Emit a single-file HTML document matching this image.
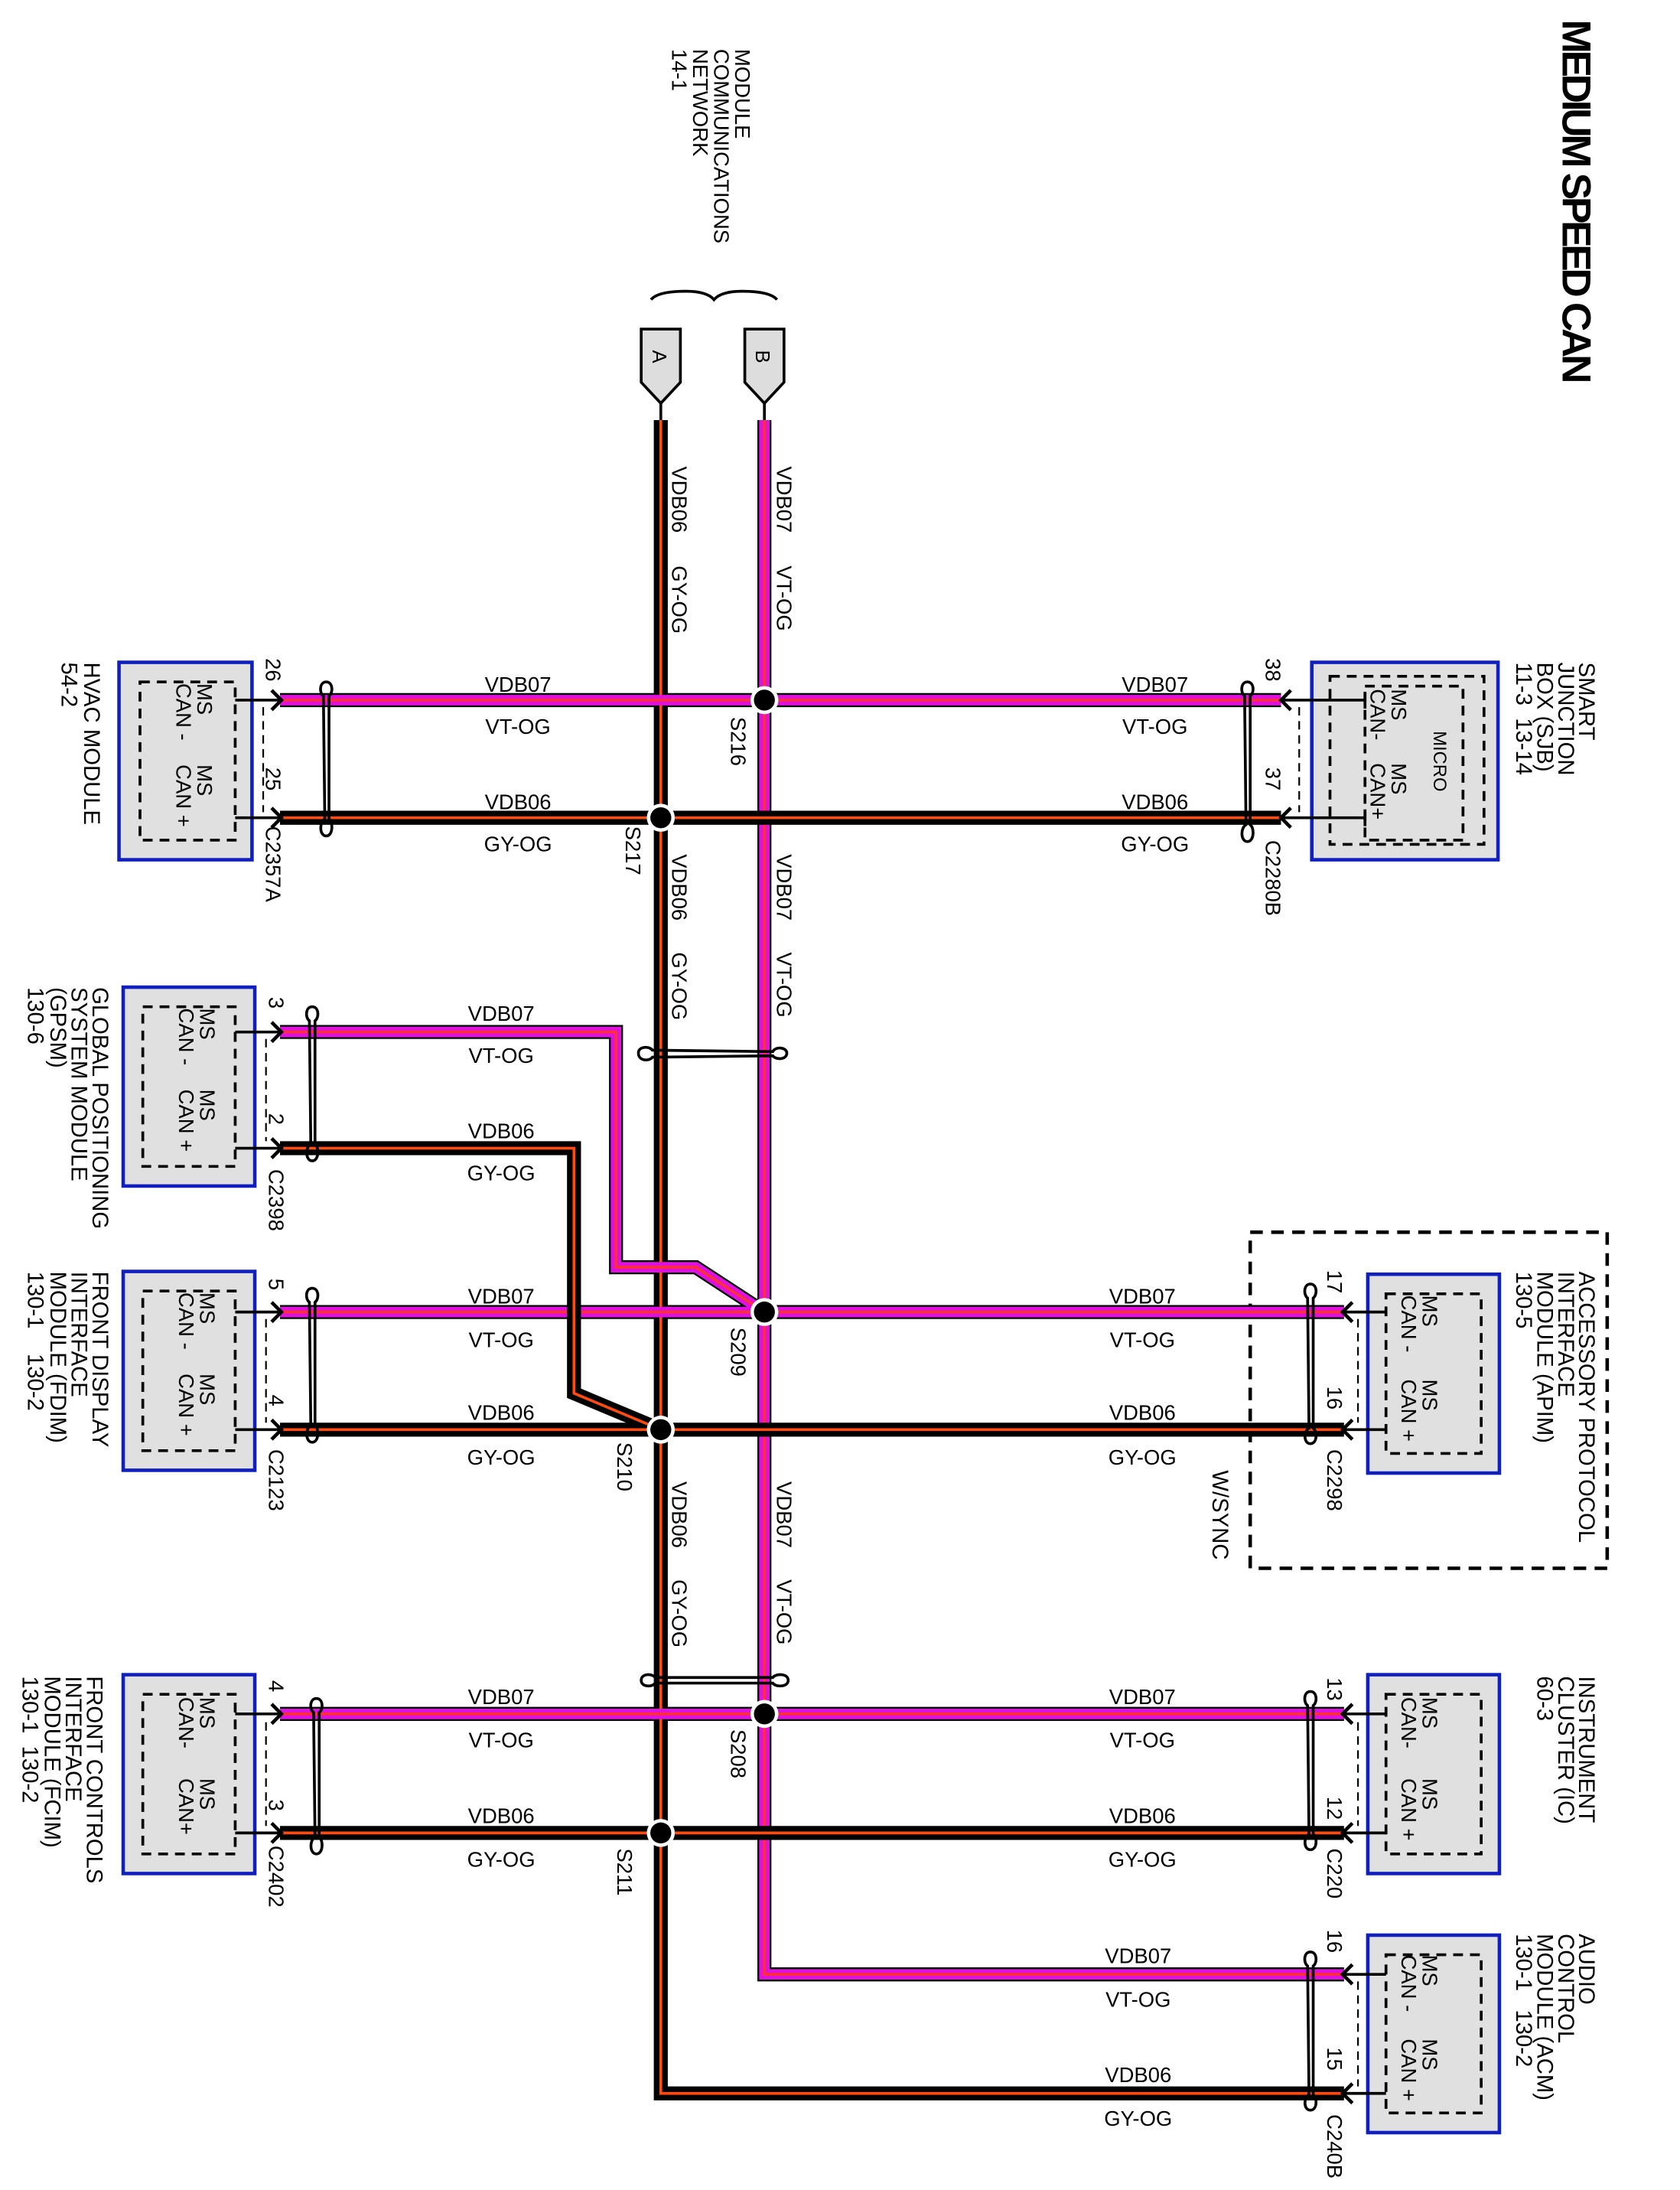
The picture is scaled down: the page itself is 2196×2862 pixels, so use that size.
<!DOCTYPE html>
<html><head><meta charset="utf-8"><style>
html,body{margin:0;padding:0;background:#fff}
svg{display:block}
text{font-family:"Liberation Sans",Arial,sans-serif;fill:#000}
</style></head><body>
<svg width="2196" height="2862" viewBox="0 0 1200 1564" preserveAspectRatio="none" xmlns="http://www.w3.org/2000/svg">
<rect width="1200" height="1564" fill="#fff"/>
<g font-size="16">
<text transform="translate(1116,14) rotate(90)" font-size="29" font-weight="bold" textLength="260">MEDIUM SPEED CAN</text>
<text transform="translate(525,35) rotate(90)" font-size="15">MODULE</text>
<text transform="translate(510,35) rotate(90)" font-size="15">COMMUNICATIONS</text>
<text transform="translate(495,35) rotate(90)" font-size="15">NETWORK</text>
<text transform="translate(480,35) rotate(90)" font-size="15">14-1</text>
<path d="M465,214 Q470,208 490,208 Q505,208 510,214 Q515,208 530,208 Q550,208 555,214" fill="none" stroke="#000" stroke-width="2"/>
<path d="M458,235 H486 V273 L472,288 L458,273 Z" fill="#ddd" stroke="#000" stroke-width="2"/>
<path d="M532,235 H560 V273 L546,288 L532,273 Z" fill="#ddd" stroke="#000" stroke-width="2"/>
<text transform="translate(466,250) rotate(90)" font-size="14">A</text>
<text transform="translate(540,250) rotate(90)" font-size="14">B</text>
<line x1="472" y1="288" x2="472" y2="300" stroke="#000" stroke-width="2"/>
<line x1="546" y1="288" x2="546" y2="300" stroke="#000" stroke-width="2"/>

<rect x="893" y="880" width="255" height="240" fill="none" stroke="#000" stroke-width="2.5" stroke-dasharray="9,6"/>

<g stroke-width="2.5">
<rect x="85" y="473" width="95" height="141" fill="#e0e0e0" stroke="#1020c0"/>
<rect x="937" y="473" width="133" height="141" fill="#e0e0e0" stroke="#1020c0"/>
<rect x="88" y="705" width="94" height="142" fill="#e0e0e0" stroke="#1020c0"/>
<rect x="88" y="908" width="94" height="142" fill="#e0e0e0" stroke="#1020c0"/>
<rect x="977" y="910" width="94" height="142" fill="#e0e0e0" stroke="#1020c0"/>
<rect x="88" y="1196" width="94" height="142" fill="#e0e0e0" stroke="#1020c0"/>
<rect x="977" y="1196" width="94" height="142" fill="#e0e0e0" stroke="#1020c0"/>
<rect x="977" y="1382" width="94" height="141" fill="#e0e0e0" stroke="#1020c0"/>
</g>
<g fill="none" stroke="#000" stroke-width="2" stroke-dasharray="7,5">
<rect x="100" y="487" width="68" height="113"/>
<rect x="102" y="719" width="66" height="114"/>
<rect x="102" y="922" width="66" height="114"/>
<rect x="102" y="1210" width="66" height="114"/>
<rect x="990" y="924" width="68" height="114"/>
<rect x="990" y="1210" width="68" height="114"/>
<rect x="990" y="1396" width="68" height="113"/>
<rect x="950" y="483" width="110" height="120"/>
<rect x="975" y="490" width="70" height="110"/>
</g>
<g stroke="#000" stroke-width="1.2" stroke-dasharray="6,4">
<line x1="188" y1="505" x2="188" y2="580"/>
<line x1="190" y1="742" x2="190" y2="815"/>
<line x1="190" y1="942" x2="190" y2="1016"/>
<line x1="190" y1="1230" x2="190" y2="1304"/>
<line x1="928" y1="505" x2="928" y2="580"/>
<line x1="970" y1="942" x2="970" y2="1016"/>
<line x1="970" y1="1230" x2="970" y2="1304"/>
<line x1="970" y1="1415" x2="970" y2="1490"/>
</g>

<text transform="translate(60,473) rotate(90)">HVAC MODULE</text>
<text transform="translate(44,473) rotate(90)">54-2</text>
<text transform="translate(1128,473) rotate(90)">SMART</text>
<text transform="translate(1113,473) rotate(90)">JUNCTION</text>
<text transform="translate(1098,473) rotate(90)">BOX (SJB)</text>
<text transform="translate(1083,473) rotate(90)">11-3&#160;&#160;13-14</text>
<text transform="translate(66,705) rotate(90)">GLOBAL POSITIONING</text>
<text transform="translate(51,705) rotate(90)">SYSTEM MODULE</text>
<text transform="translate(36,705) rotate(90)">(GPSM)</text>
<text transform="translate(20,705) rotate(90)">130-6</text>
<text transform="translate(66,908) rotate(90)">FRONT DISPLAY</text>
<text transform="translate(51,908) rotate(90)">INTERFACE</text>
<text transform="translate(36,908) rotate(90)">MODULE (FDIM)</text>
<text transform="translate(20,908) rotate(90)">130-1&#160;&#160;&#160;&#160;130-2</text>
<text transform="translate(62,1197) rotate(90)">FRONT CONTROLS</text>
<text transform="translate(47,1197) rotate(90)">INTERFACE</text>
<text transform="translate(32,1197) rotate(90)">MODULE (FCIM)</text>
<text transform="translate(16,1197) rotate(90)">130-1&#160;&#160;130-2</text>
<text transform="translate(1128,908) rotate(90)">ACCESSORY PROTOCOL</text>
<text transform="translate(1113,908) rotate(90)">INTERFACE</text>
<text transform="translate(1098,908) rotate(90)">MODULE (APIM)</text>
<text transform="translate(1083,908) rotate(90)">130-5</text>
<text transform="translate(1128,1197) rotate(90)">INSTRUMENT</text>
<text transform="translate(1113,1197) rotate(90)">CLUSTER (IC)</text>
<text transform="translate(1098,1197) rotate(90)">60-3</text>
<text transform="translate(1128,1381) rotate(90)">AUDIO</text>
<text transform="translate(1113,1381) rotate(90)">CONTROL</text>
<text transform="translate(1098,1381) rotate(90)">MODULE (ACM)</text>
<text transform="translate(1083,1381) rotate(90)">130-1&#160;&#160;&#160;130-2</text>
<text transform="translate(866,1050) rotate(90)">W/SYNC</text>

<g font-size="15">
<text transform="translate(141,488) rotate(90)">MS</text><text transform="translate(126,488) rotate(90)">CAN -</text>
<text transform="translate(141,546) rotate(90)">MS</text><text transform="translate(126,546) rotate(90)">CAN +</text>
<text transform="translate(143,720) rotate(90)">MS</text><text transform="translate(128,720) rotate(90)">CAN -</text>
<text transform="translate(143,778) rotate(90)">MS</text><text transform="translate(128,778) rotate(90)">CAN +</text>
<text transform="translate(143,923) rotate(90)">MS</text><text transform="translate(128,923) rotate(90)">CAN -</text>
<text transform="translate(143,981) rotate(90)">MS</text><text transform="translate(128,981) rotate(90)">CAN +</text>
<text transform="translate(143,1212) rotate(90)">MS</text><text transform="translate(128,1212) rotate(90)">CAN-</text>
<text transform="translate(143,1270) rotate(90)">MS</text><text transform="translate(128,1270) rotate(90)">CAN+</text>
<text transform="translate(1016,925) rotate(90)">MS</text><text transform="translate(1001,925) rotate(90)">CAN -</text>
<text transform="translate(1016,985) rotate(90)">MS</text><text transform="translate(1001,985) rotate(90)">CAN +</text>
<text transform="translate(1016,1212) rotate(90)">MS</text><text transform="translate(1001,1212) rotate(90)">CAN-</text>
<text transform="translate(1016,1270) rotate(90)">MS</text><text transform="translate(1001,1270) rotate(90)">CAN +</text>
<text transform="translate(1016,1396) rotate(90)">MS</text><text transform="translate(1001,1396) rotate(90)">CAN -</text>
<text transform="translate(1016,1456) rotate(90)">MS</text><text transform="translate(1001,1456) rotate(90)">CAN +</text>
<text transform="translate(994,492) rotate(90)">MS</text><text transform="translate(979,492) rotate(90)">CAN-</text>
<text transform="translate(994,545) rotate(90)">MS</text><text transform="translate(979,545) rotate(90)">CAN+</text>
<text transform="translate(1024,522) rotate(90)" font-size="13">MICRO</text>
</g>

<g stroke="#000" stroke-width="2" fill="none">
<path d="M168,500 H200 M168,584 H200"/>
<path d="M168,737 H200 M168,820 H200"/>
<path d="M168,937 H200 M168,1021 H200"/>
<path d="M168,1224 H200 M168,1309 H200"/>
<path d="M915,500 H975 M915,584 H975 M975,494 V506 M975,578 V590"/>
<path d="M960,937 H990 M960,1021 H990"/>
<path d="M960,1224 H990 M960,1309 H990"/>
<path d="M960,1410 H990 M960,1495 H990"/>
</g>

<g fill="none" stroke-linejoin="miter">
<path d="M546,300 V1410 H960" stroke="#000" stroke-width="10"/>
<path d="M200,500 H915 M200,937 H960 M200,1224 H960 M200,737 H440 V905 H497 L546,937" stroke="#000" stroke-width="10"/>
<g stroke="#e010e0" stroke-width="7.5">
<path d="M546,300 V1410 H960"/>
<path d="M200,500 H915 M200,937 H960 M200,1224 H960 M200,737 H440 V905 H497 L546,937"/>
</g>
<g stroke="#ff3030" stroke-width="2">
<path d="M546,300 V1410 H960"/>
<path d="M200,500 H915 M200,937 H960 M200,1224 H960 M200,737 H440 V905 H497 L546,937"/>
</g>
<g stroke="#000" stroke-width="10">
<path d="M472,300 V1495 H960"/>
<path d="M200,584 H915 M200,1021 H960 M200,1309 H960 M200,820 H410 V995 L472,1021"/>
</g>
<g stroke="#ff4a10" stroke-width="2">
<path d="M472,300 V1495 H960"/>
<path d="M200,584 H915 M200,1021 H960 M200,1309 H960 M200,820 H410 V995 L472,1021"/>
</g>
</g>
<g stroke-width="7.5"><path d="M466,500 H478 M466,937 H478 M466,1224 H478 M466,905 H478" stroke="#e010e0"/></g>
<g stroke-width="2"><path d="M466,500 H478 M466,937 H478 M466,1224 H478 M466,905 H478" stroke="#ff3030"/></g>

<g>
<circle cx="546" cy="500" r="10" fill="#fff"/><circle cx="546" cy="500" r="7.5" fill="#000"/>
<circle cx="472" cy="584" r="10" fill="#fff"/><circle cx="472" cy="584" r="7.5" fill="#000"/>
<circle cx="546" cy="937" r="10" fill="#fff"/><circle cx="546" cy="937" r="7.5" fill="#000"/>
<circle cx="472" cy="1021" r="10" fill="#fff"/><circle cx="472" cy="1021" r="7.5" fill="#000"/>
<circle cx="546" cy="1224" r="10" fill="#fff"/><circle cx="546" cy="1224" r="7.5" fill="#000"/>
<circle cx="472" cy="1309" r="10" fill="#fff"/><circle cx="472" cy="1309" r="7.5" fill="#000"/>
</g>

<g fill="none" stroke="#000" stroke-width="2.5">
<path d="M194,493 L201,500 L194,507 M194,577 L201,584 L194,591"/>
<path d="M194,730 L201,737 L194,744 M194,813 L201,820 L194,827"/>
<path d="M194,930 L201,937 L194,944 M194,1014 L201,1021 L194,1028"/>
<path d="M194,1217 L201,1224 L194,1231 M194,1302 L201,1309 L194,1316"/>
<path d="M922,493 L915,500 L922,507 M922,577 L915,584 L922,591"/>
<path d="M966,930 L959,937 L966,944 M966,1014 L959,1021 L966,1028"/>
<path d="M966,1217 L959,1224 L966,1231 M966,1302 L959,1309 L966,1316"/>
<path d="M966,1403 L959,1410 L966,1417 M966,1488 L959,1495 L966,1502"/>
</g>

<g fill="none" stroke="#000" stroke-width="2">
<path d="M233,487 C228,487 228,495 231,497 L232,585 C228,587 228,597 233,597 C238,597 238,587 235,585 L235,497 C238,495 238,487 233,487 Z"/>
<path d="M223,719 C218,719 218,727 221,729 L222,817 C218,819 218,829 223,829 C228,829 228,819 225,817 L225,729 C228,727 228,719 223,719 Z"/>
<path d="M223,920 C218,920 218,928 221,930 L222,1018 C218,1020 218,1030 223,1030 C228,1030 228,1020 225,1018 L225,930 C228,928 228,920 223,920 Z"/>
<path d="M226,1213 C221,1213 221,1221 224,1223 L225,1312 C221,1314 221,1324 226,1324 C231,1324 231,1314 228,1312 L228,1223 C231,1221 231,1213 226,1213 Z"/>
<path d="M891,487 C886,487 886,495 889,497 L890,589 C886,591 886,601 891,601 C896,601 896,591 893,589 L893,497 C896,495 896,487 891,487 Z"/>
<path d="M936,917 C931,917 931,925 934,927 L935,1020 C931,1022 931,1031 936,1031 C941,1031 941,1022 938,1020 L938,927 C941,925 941,917 936,917 Z"/>
<path d="M936,1208 C931,1208 931,1216 934,1218 L935,1310 C931,1312 931,1321 936,1321 C941,1321 941,1312 938,1310 L938,1218 C941,1216 941,1208 936,1208 Z"/>
<path d="M936,1394 C931,1394 931,1402 934,1404 L935,1496 C931,1498 931,1507 936,1507 C941,1507 941,1498 938,1496 L938,1404 C941,1402 941,1394 936,1394 Z"/>
<path d="M456,752 C456,747 464,747 466,750 L552,751 C554,747 562,748 562,752 C562,757 554,757 552,754 L466,755 C464,758 456,758 456,752 Z"/>
<path d="M458,1200 C458,1195 466,1195 468,1198 L552,1198 C554,1195 563,1195 563,1200 C563,1205 554,1205 552,1202 L468,1202 C466,1205 458,1205 458,1200 Z"/>
</g>

<g font-size="15" text-anchor="middle">
<text x="370" y="494">VDB07</text><text x="370" y="524">VT-OG</text>
<text x="370" y="578">VDB06</text><text x="370" y="608">GY-OG</text>
<text x="825" y="494">VDB07</text><text x="825" y="524">VT-OG</text>
<text x="825" y="578">VDB06</text><text x="825" y="608">GY-OG</text>
<text x="358" y="729">VDB07</text><text x="358" y="759">VT-OG</text>
<text x="358" y="813">VDB06</text><text x="358" y="843">GY-OG</text>
<text x="358" y="931">VDB07</text><text x="358" y="962">VT-OG</text>
<text x="358" y="1014">VDB06</text><text x="358" y="1046">GY-OG</text>
<text x="816" y="931">VDB07</text><text x="816" y="962">VT-OG</text>
<text x="816" y="1014">VDB06</text><text x="816" y="1046">GY-OG</text>
<text x="358" y="1217">VDB07</text><text x="358" y="1248">VT-OG</text>
<text x="358" y="1302">VDB06</text><text x="358" y="1333">GY-OG</text>
<text x="816" y="1217">VDB07</text><text x="816" y="1248">VT-OG</text>
<text x="816" y="1302">VDB06</text><text x="816" y="1333">GY-OG</text>
<text x="813" y="1402">VDB07</text><text x="813" y="1433">VT-OG</text>
<text x="813" y="1487">VDB06</text><text x="813" y="1518">GY-OG</text>
</g>

<g font-size="15">
<text transform="translate(555,333) rotate(90)">VDB07</text><text transform="translate(555,404) rotate(90)">VT-OG</text>
<text transform="translate(480,333) rotate(90)">VDB06</text><text transform="translate(480,404) rotate(90)">GY-OG</text>
<text transform="translate(555,610) rotate(90)">VDB07</text><text transform="translate(555,680) rotate(90)">VT-OG</text>
<text transform="translate(480,610) rotate(90)">VDB06</text><text transform="translate(480,680) rotate(90)">GY-OG</text>
<text transform="translate(555,1058) rotate(90)">VDB07</text><text transform="translate(555,1128) rotate(90)">VT-OG</text>
<text transform="translate(480,1058) rotate(90)">VDB06</text><text transform="translate(480,1128) rotate(90)">GY-OG</text>
<text transform="translate(522,512) rotate(90)">S216</text>
<text transform="translate(447,590) rotate(90)">S217</text>
<text transform="translate(522,948) rotate(90)">S209</text>
<text transform="translate(441,1030) rotate(90)">S210</text>
<text transform="translate(522,1235) rotate(90)">S208</text>
<text transform="translate(441,1320) rotate(90)">S211</text>
<text transform="translate(190,470) rotate(90)">26</text>
<text transform="translate(190,548) rotate(90)">25</text>
<text transform="translate(190,590) rotate(90)">C2357A</text>
<text transform="translate(192,712) rotate(90)">3</text>
<text transform="translate(192,795) rotate(90)">2</text>
<text transform="translate(192,835) rotate(90)">C2398</text>
<text transform="translate(192,913) rotate(90)">5</text>
<text transform="translate(192,996) rotate(90)">4</text>
<text transform="translate(192,1035) rotate(90)">C2123</text>
<text transform="translate(192,1200) rotate(90)">4</text>
<text transform="translate(192,1285) rotate(90)">3</text>
<text transform="translate(192,1318) rotate(90)">C2402</text>
<text transform="translate(904,470) rotate(90)">38</text>
<text transform="translate(904,548) rotate(90)">37</text>
<text transform="translate(904,600) rotate(90)">C2280B</text>
<text transform="translate(948,907) rotate(90)">17</text>
<text transform="translate(948,990) rotate(90)">16</text>
<text transform="translate(948,1035) rotate(90)">C2298</text>
<text transform="translate(948,1198) rotate(90)">13</text>
<text transform="translate(948,1283) rotate(90)">12</text>
<text transform="translate(948,1320) rotate(90)">C220</text>
<text transform="translate(948,1378) rotate(90)">16</text>
<text transform="translate(948,1462) rotate(90)">15</text>
<text transform="translate(948,1510) rotate(90)">C240B</text>
</g>
</g>
</svg>
</body></html>
